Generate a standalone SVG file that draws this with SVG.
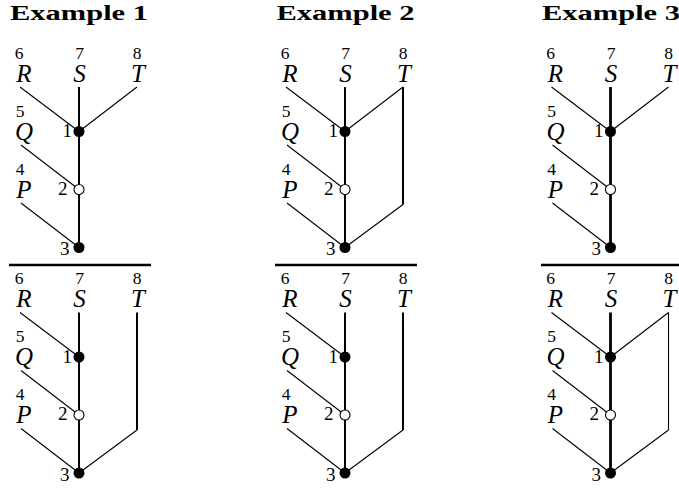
<svg xmlns="http://www.w3.org/2000/svg" width="679" height="489" viewBox="0 0 679 489">
<style>
text{font-family:"Liberation Serif",serif}
.title{font-weight:bold;font-size:22px;text-anchor:middle}
.leaf{text-anchor:middle}
.var{font-style:italic;font-size:25px}
.sup{font-size:17.5px}
.lab{font-size:19px;text-anchor:end}
.thin{stroke:#000;stroke-width:1.1;fill:none}
.thick{stroke:#000;stroke-width:2;fill:none}
.bold{stroke:#000;stroke-width:2.8;fill:none}
.sep{stroke:#000;stroke-width:2.6}
.full{fill:#000}
.open{fill:#fff;stroke:#000;stroke-width:1.1}
</style>
<text class="title" x="79" y="19.5" textLength="138" lengthAdjust="spacingAndGlyphs">Example 1</text>
<text class="title" x="345.5" y="19.5" textLength="138" lengthAdjust="spacingAndGlyphs">Example 2</text>
<text class="title" x="611" y="19.5" textLength="138" lengthAdjust="spacingAndGlyphs">Example 3</text>
<g id="separators">
<line class="sep" x1="9" y1="265" x2="151" y2="265"/>
<line class="sep" x1="275" y1="265" x2="417" y2="265"/>
<line class="sep" x1="541" y1="265" x2="683" y2="265"/>
</g>
<g id="connectors">
<g transform="translate(0,0)">
<line class="thin" x1="20" y1="87" x2="79" y2="131.5"/><line class="thin" x1="21" y1="145" x2="79" y2="189.5"/><line class="thin" x1="21" y1="203" x2="79" y2="247.5"/>
<line class="thick" x1="79" y1="87" x2="79" y2="247.5"/>
<line class="thin" x1="137" y1="87" x2="79" y2="131.5"/>
</g>
<g transform="translate(0,225.5)">
<line class="thin" x1="20" y1="87" x2="79" y2="131.5"/><line class="thin" x1="21" y1="145" x2="79" y2="189.5"/><line class="thin" x1="21" y1="203" x2="79" y2="247.5"/>
<line class="thick" x1="79" y1="87" x2="79" y2="247.5"/>
<line class="thick" x1="137" y1="87" x2="137" y2="204.5"/>
<line class="thin" x1="137" y1="204.5" x2="79" y2="247.5"/>
</g>
<g transform="translate(266,0)">
<line class="thin" x1="20" y1="87" x2="79" y2="131.5"/><line class="thin" x1="21" y1="145" x2="79" y2="189.5"/><line class="thin" x1="21" y1="203" x2="79" y2="247.5"/>
<line class="thick" x1="79" y1="87" x2="79" y2="247.5"/>
<line class="thin" x1="137" y1="87" x2="79" y2="131.5"/>
<line class="thick" x1="137" y1="87" x2="137" y2="204.5"/>
<line class="thin" x1="137" y1="204.5" x2="79" y2="247.5"/>
</g>
<g transform="translate(266,225.5)">
<line class="thin" x1="20" y1="87" x2="79" y2="131.5"/><line class="thin" x1="21" y1="145" x2="79" y2="189.5"/><line class="thin" x1="21" y1="203" x2="79" y2="247.5"/>
<line class="thick" x1="79" y1="87" x2="79" y2="247.5"/>
<line class="thick" x1="137" y1="87" x2="137" y2="204.5"/>
<line class="thin" x1="137" y1="204.5" x2="79" y2="247.5"/>
</g>
<g transform="translate(531.5,0)">
<line class="thin" x1="20" y1="87" x2="79" y2="131.5"/><line class="thin" x1="21" y1="145" x2="79" y2="189.5"/><line class="thin" x1="21" y1="203" x2="79" y2="247.5"/>
<line class="bold" x1="79" y1="87" x2="79" y2="247.5"/>
<line class="thin" x1="137" y1="87" x2="79" y2="131.5"/>
</g>
<g transform="translate(531.5,225.5)">
<line class="thin" x1="20" y1="87" x2="79" y2="131.5"/><line class="thin" x1="21" y1="145" x2="79" y2="189.5"/><line class="thin" x1="21" y1="203" x2="79" y2="247.5"/>
<line class="bold" x1="79" y1="87" x2="79" y2="247.5"/>
<line class="thin" x1="137" y1="87" x2="79" y2="131.5"/>
<line class="thin" x1="137" y1="87" x2="137" y2="204.5"/>
<line class="thin" x1="137" y1="204.5" x2="79" y2="247.5"/>
</g>
</g>

<g id="ex1-top" transform="translate(0,0)">
<g id="e1t-R"><text class="leaf"><tspan class="sup" x="19" y="58.5">6</tspan><tspan class="var" x="24" y="81.5">R</tspan></text></g>
<g id="e1t-S"><text class="leaf"><tspan class="sup" x="79.5" y="58.5">7</tspan><tspan class="var" x="79.5" y="81.5">S</tspan></text></g>
<g id="e1t-T"><text class="leaf"><tspan class="sup" x="137" y="58.5">8</tspan><tspan class="var" x="138" y="81.5">T</tspan></text></g>
<g id="e1t-Q"><text class="leaf"><tspan class="sup" x="20" y="116.5">5</tspan><tspan class="var" x="24" y="139.5">Q</tspan></text></g>
<g id="e1t-P"><text class="leaf"><tspan class="sup" x="20" y="174.5">4</tspan><tspan class="var" x="24" y="197.5">P</tspan></text></g>
<g id="e1t-n1"><circle class="full" cx="79" cy="131.5" r="5.5"/><text class="lab" x="72" y="137">1</text></g>
<g id="e1t-n2"><circle class="open" cx="79" cy="189.5" r="5"/><text class="lab" x="67.5" y="194.5">2</text></g>
<g id="e1t-n3"><circle class="full" cx="79" cy="247.5" r="5.5"/><text class="lab" x="69.5" y="255">3</text></g>
</g>
<g id="ex1-bottom" transform="translate(0,225.5)">
<g id="e1b-R"><text class="leaf"><tspan class="sup" x="19" y="58.5">6</tspan><tspan class="var" x="24" y="81.5">R</tspan></text></g>
<g id="e1b-S"><text class="leaf"><tspan class="sup" x="79.5" y="58.5">7</tspan><tspan class="var" x="79.5" y="81.5">S</tspan></text></g>
<g id="e1b-T"><text class="leaf"><tspan class="sup" x="137" y="58.5">8</tspan><tspan class="var" x="138" y="81.5">T</tspan></text></g>
<g id="e1b-Q"><text class="leaf"><tspan class="sup" x="20" y="116.5">5</tspan><tspan class="var" x="24" y="139.5">Q</tspan></text></g>
<g id="e1b-P"><text class="leaf"><tspan class="sup" x="20" y="174.5">4</tspan><tspan class="var" x="24" y="197.5">P</tspan></text></g>
<g id="e1b-n1"><circle class="full" cx="79" cy="131.5" r="5.5"/><text class="lab" x="72" y="137">1</text></g>
<g id="e1b-n2"><circle class="open" cx="79" cy="189.5" r="5"/><text class="lab" x="67.5" y="194.5">2</text></g>
<g id="e1b-n3"><circle class="full" cx="79" cy="247.5" r="5.5"/><text class="lab" x="69.5" y="255">3</text></g>
</g>
<g id="ex2-top" transform="translate(266,0)">
<g id="e2t-R"><text class="leaf"><tspan class="sup" x="19" y="58.5">6</tspan><tspan class="var" x="24" y="81.5">R</tspan></text></g>
<g id="e2t-S"><text class="leaf"><tspan class="sup" x="79.5" y="58.5">7</tspan><tspan class="var" x="79.5" y="81.5">S</tspan></text></g>
<g id="e2t-T"><text class="leaf"><tspan class="sup" x="137" y="58.5">8</tspan><tspan class="var" x="138" y="81.5">T</tspan></text></g>
<g id="e2t-Q"><text class="leaf"><tspan class="sup" x="20" y="116.5">5</tspan><tspan class="var" x="24" y="139.5">Q</tspan></text></g>
<g id="e2t-P"><text class="leaf"><tspan class="sup" x="20" y="174.5">4</tspan><tspan class="var" x="24" y="197.5">P</tspan></text></g>
<g id="e2t-n1"><circle class="full" cx="79" cy="131.5" r="5.5"/><text class="lab" x="72" y="137">1</text></g>
<g id="e2t-n2"><circle class="open" cx="79" cy="189.5" r="5"/><text class="lab" x="67.5" y="194.5">2</text></g>
<g id="e2t-n3"><circle class="full" cx="79" cy="247.5" r="5.5"/><text class="lab" x="69.5" y="255">3</text></g>
</g>
<g id="ex2-bottom" transform="translate(266,225.5)">
<g id="e2b-R"><text class="leaf"><tspan class="sup" x="19" y="58.5">6</tspan><tspan class="var" x="24" y="81.5">R</tspan></text></g>
<g id="e2b-S"><text class="leaf"><tspan class="sup" x="79.5" y="58.5">7</tspan><tspan class="var" x="79.5" y="81.5">S</tspan></text></g>
<g id="e2b-T"><text class="leaf"><tspan class="sup" x="137" y="58.5">8</tspan><tspan class="var" x="138" y="81.5">T</tspan></text></g>
<g id="e2b-Q"><text class="leaf"><tspan class="sup" x="20" y="116.5">5</tspan><tspan class="var" x="24" y="139.5">Q</tspan></text></g>
<g id="e2b-P"><text class="leaf"><tspan class="sup" x="20" y="174.5">4</tspan><tspan class="var" x="24" y="197.5">P</tspan></text></g>
<g id="e2b-n1"><circle class="full" cx="79" cy="131.5" r="5.5"/><text class="lab" x="72" y="137">1</text></g>
<g id="e2b-n2"><circle class="open" cx="79" cy="189.5" r="5"/><text class="lab" x="67.5" y="194.5">2</text></g>
<g id="e2b-n3"><circle class="full" cx="79" cy="247.5" r="5.5"/><text class="lab" x="69.5" y="255">3</text></g>
</g>
<g id="ex3-top" transform="translate(531.5,0)">
<g id="e3t-R"><text class="leaf"><tspan class="sup" x="19" y="58.5">6</tspan><tspan class="var" x="24" y="81.5">R</tspan></text></g>
<g id="e3t-S"><text class="leaf"><tspan class="sup" x="79.5" y="58.5">7</tspan><tspan class="var" x="79.5" y="81.5">S</tspan></text></g>
<g id="e3t-T"><text class="leaf"><tspan class="sup" x="137" y="58.5">8</tspan><tspan class="var" x="138" y="81.5">T</tspan></text></g>
<g id="e3t-Q"><text class="leaf"><tspan class="sup" x="20" y="116.5">5</tspan><tspan class="var" x="24" y="139.5">Q</tspan></text></g>
<g id="e3t-P"><text class="leaf"><tspan class="sup" x="20" y="174.5">4</tspan><tspan class="var" x="24" y="197.5">P</tspan></text></g>
<g id="e3t-n1"><circle class="full" cx="79" cy="131.5" r="5.5"/><text class="lab" x="72" y="137">1</text></g>
<g id="e3t-n2"><circle class="open" cx="79" cy="189.5" r="5"/><text class="lab" x="67.5" y="194.5">2</text></g>
<g id="e3t-n3"><circle class="full" cx="79" cy="247.5" r="5.5"/><text class="lab" x="69.5" y="255">3</text></g>
</g>
<g id="ex3-bottom" transform="translate(531.5,225.5)">
<g id="e3b-R"><text class="leaf"><tspan class="sup" x="19" y="58.5">6</tspan><tspan class="var" x="24" y="81.5">R</tspan></text></g>
<g id="e3b-S"><text class="leaf"><tspan class="sup" x="79.5" y="58.5">7</tspan><tspan class="var" x="79.5" y="81.5">S</tspan></text></g>
<g id="e3b-T"><text class="leaf"><tspan class="sup" x="137" y="58.5">8</tspan><tspan class="var" x="138" y="81.5">T</tspan></text></g>
<g id="e3b-Q"><text class="leaf"><tspan class="sup" x="20" y="116.5">5</tspan><tspan class="var" x="24" y="139.5">Q</tspan></text></g>
<g id="e3b-P"><text class="leaf"><tspan class="sup" x="20" y="174.5">4</tspan><tspan class="var" x="24" y="197.5">P</tspan></text></g>
<g id="e3b-n1"><circle class="full" cx="79" cy="131.5" r="5.5"/><text class="lab" x="72" y="137">1</text></g>
<g id="e3b-n2"><circle class="open" cx="79" cy="189.5" r="5"/><text class="lab" x="67.5" y="194.5">2</text></g>
<g id="e3b-n3"><circle class="full" cx="79" cy="247.5" r="5.5"/><text class="lab" x="69.5" y="255">3</text></g>
</g>
</svg>
